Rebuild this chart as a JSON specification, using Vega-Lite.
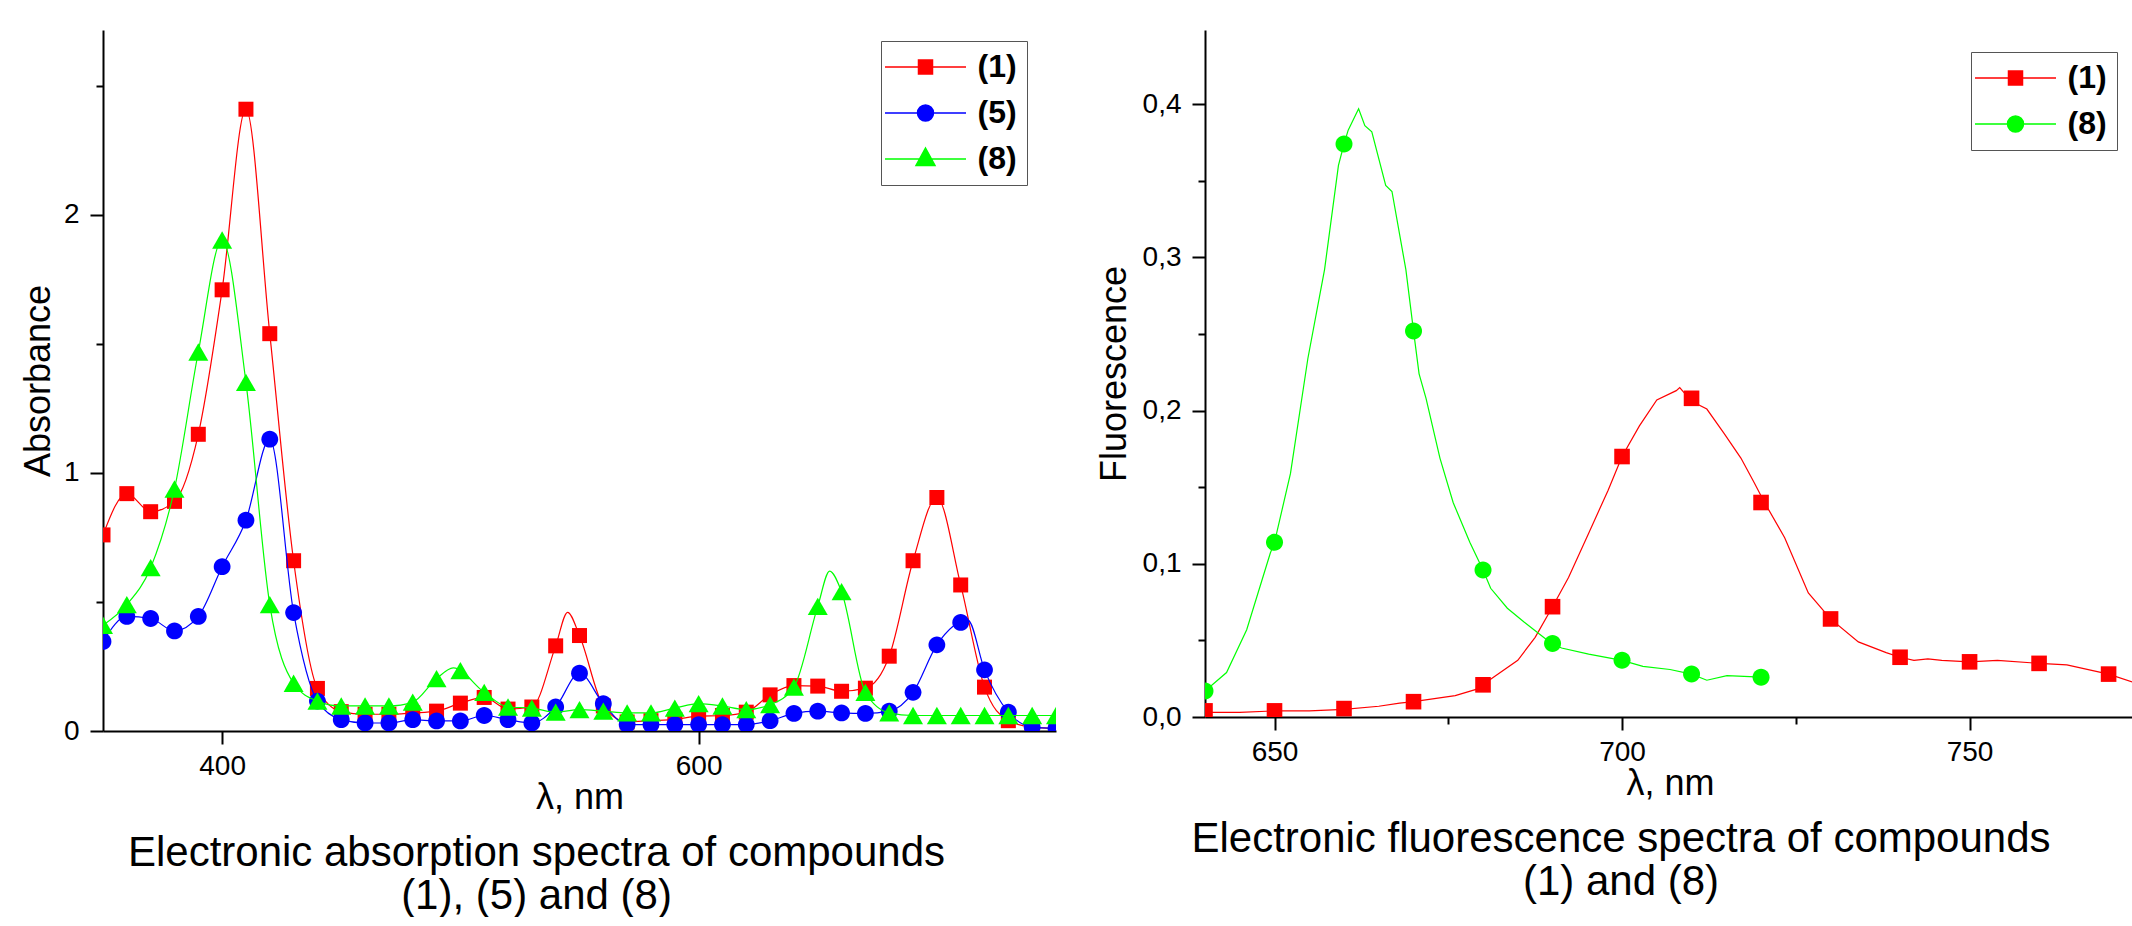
{
  "$schema": "https://vega.github.io/schema/vega-lite/v6.json",
  "background": "white",
  "padding": {"left": 20, "top": 30, "right": 0, "bottom": 0},
  "spacing": 40,
  "resolve": {"scale": {"fill": "independent", "stroke": "independent", "shape": "independent"}, "legend": {"fill": "independent", "stroke": "independent", "shape": "independent"}},
  "config": {
    "font": "Liberation Sans",
    "view": {"stroke": null},
    "axis": {"domainColor": "black", "domainWidth": 2, "tickColor": "black", "tickWidth": 2, "labelColor": "black", "labelFontSize": 28, "labelFont": "Liberation Sans", "titleFont": "Liberation Sans", "titleFontWeight": "normal", "titleFontSize": 36, "titleColor": "black", "grid": false},
    "legend": {"labelFont": "Liberation Sans", "labelFontSize": 32, "labelFontWeight": "bold", "labelColor": "black", "labelOffset": 36, "symbolOffset": 18.5, "symbolSize": 900, "symbolStrokeWidth": 1.5, "symbolOpacity": 1, "strokeColor": "#555555", "fillColor": "white", "padding": 10, "rowPadding": 14}
  },
  "datasets": {
    "absPts": [
      {"s":"1","wl":350,"A":0.76},{"s":"1","wl":360,"A":0.92},{"s":"1","wl":370,"A":0.85},{"s":"1","wl":380,"A":0.89},{"s":"1","wl":390,"A":1.15},{"s":"1","wl":400,"A":1.71},{"s":"1","wl":410,"A":2.41},{"s":"1","wl":420,"A":1.54},{"s":"1","wl":430,"A":0.66},{"s":"1","wl":440,"A":0.165},{"s":"1","wl":450,"A":0.075},{"s":"1","wl":460,"A":0.065},{"s":"1","wl":470,"A":0.065},{"s":"1","wl":480,"A":0.07},{"s":"1","wl":490,"A":0.077},{"s":"1","wl":500,"A":0.108},{"s":"1","wl":510,"A":0.13},{"s":"1","wl":520,"A":0.085},{"s":"1","wl":530,"A":0.093},{"s":"1","wl":540,"A":0.33},{"s":"1","wl":550,"A":0.37},{"s":"1","wl":560,"A":0.097},{"s":"1","wl":570,"A":0.035},{"s":"1","wl":580,"A":0.04},{"s":"1","wl":590,"A":0.045},{"s":"1","wl":600,"A":0.058},{"s":"1","wl":610,"A":0.06},{"s":"1","wl":620,"A":0.073},{"s":"1","wl":630,"A":0.14},{"s":"1","wl":640,"A":0.176},{"s":"1","wl":650,"A":0.174},{"s":"1","wl":660,"A":0.154},{"s":"1","wl":670,"A":0.166},{"s":"1","wl":680,"A":0.29},{"s":"1","wl":690,"A":0.66},{"s":"1","wl":700,"A":0.905},{"s":"1","wl":710,"A":0.566},{"s":"1","wl":720,"A":0.17},{"s":"1","wl":730,"A":0.04},{"s":"1","wl":740,"A":0.015},{"s":"1","wl":750,"A":0.01},
      {"s":"5","wl":350,"A":0.347},{"s":"5","wl":360,"A":0.444},{"s":"5","wl":370,"A":0.436},{"s":"5","wl":380,"A":0.388},{"s":"5","wl":390,"A":0.444},{"s":"5","wl":400,"A":0.637},{"s":"5","wl":410,"A":0.817},{"s":"5","wl":420,"A":1.131},{"s":"5","wl":430,"A":0.459},{"s":"5","wl":440,"A":0.116},{"s":"5","wl":450,"A":0.044},{"s":"5","wl":460,"A":0.031},{"s":"5","wl":470,"A":0.031},{"s":"5","wl":480,"A":0.044},{"s":"5","wl":490,"A":0.039},{"s":"5","wl":500,"A":0.039},{"s":"5","wl":510,"A":0.06},{"s":"5","wl":520,"A":0.044},{"s":"5","wl":530,"A":0.031},{"s":"5","wl":540,"A":0.093},{"s":"5","wl":550,"A":0.224},{"s":"5","wl":560,"A":0.106},{"s":"5","wl":570,"A":0.025},{"s":"5","wl":580,"A":0.025},{"s":"5","wl":590,"A":0.025},{"s":"5","wl":600,"A":0.025},{"s":"5","wl":610,"A":0.025},{"s":"5","wl":620,"A":0.025},{"s":"5","wl":630,"A":0.04},{"s":"5","wl":640,"A":0.068},{"s":"5","wl":650,"A":0.077},{"s":"5","wl":660,"A":0.07},{"s":"5","wl":670,"A":0.068},{"s":"5","wl":680,"A":0.077},{"s":"5","wl":690,"A":0.15},{"s":"5","wl":700,"A":0.334},{"s":"5","wl":710,"A":0.421},{"s":"5","wl":720,"A":0.237},{"s":"5","wl":730,"A":0.073},{"s":"5","wl":740,"A":0.015},{"s":"5","wl":750,"A":0.01},
      {"s":"8","wl":350,"A":0.41},{"s":"8","wl":360,"A":0.49},{"s":"8","wl":370,"A":0.633},{"s":"8","wl":380,"A":0.938},{"s":"8","wl":390,"A":1.469},{"s":"8","wl":400,"A":1.903},{"s":"8","wl":410,"A":1.351},{"s":"8","wl":420,"A":0.49},{"s":"8","wl":430,"A":0.185},{"s":"8","wl":440,"A":0.116},{"s":"8","wl":450,"A":0.097},{"s":"8","wl":460,"A":0.097},{"s":"8","wl":470,"A":0.097},{"s":"8","wl":480,"A":0.112},{"s":"8","wl":490,"A":0.203},{"s":"8","wl":500,"A":0.234},{"s":"8","wl":510,"A":0.15},{"s":"8","wl":520,"A":0.093},{"s":"8","wl":530,"A":0.089},{"s":"8","wl":540,"A":0.073},{"s":"8","wl":550,"A":0.083},{"s":"8","wl":560,"A":0.077},{"s":"8","wl":570,"A":0.07},{"s":"8","wl":580,"A":0.07},{"s":"8","wl":590,"A":0.089},{"s":"8","wl":600,"A":0.106},{"s":"8","wl":610,"A":0.097},{"s":"8","wl":620,"A":0.083},{"s":"8","wl":630,"A":0.102},{"s":"8","wl":640,"A":0.17},{"s":"8","wl":650,"A":0.483},{"s":"8","wl":660,"A":0.54},{"s":"8","wl":670,"A":0.15},{"s":"8","wl":680,"A":0.07},{"s":"8","wl":690,"A":0.06},{"s":"8","wl":700,"A":0.06},{"s":"8","wl":710,"A":0.06},{"s":"8","wl":720,"A":0.06},{"s":"8","wl":730,"A":0.06},{"s":"8","wl":740,"A":0.06},{"s":"8","wl":750,"A":0.06}
    ],
    "absLine": [
      {"s":"1","wl":350,"A":0.76},{"s":"1","wl":360,"A":0.92},{"s":"1","wl":370,"A":0.85},{"s":"1","wl":380,"A":0.89},{"s":"1","wl":390,"A":1.15},{"s":"1","wl":400,"A":1.71},{"s":"1","wl":410,"A":2.41},{"s":"1","wl":420,"A":1.54},{"s":"1","wl":430,"A":0.66},{"s":"1","wl":440,"A":0.165},{"s":"1","wl":450,"A":0.075},{"s":"1","wl":460,"A":0.065},{"s":"1","wl":470,"A":0.065},{"s":"1","wl":480,"A":0.07},{"s":"1","wl":490,"A":0.077},{"s":"1","wl":500,"A":0.108},{"s":"1","wl":510,"A":0.13},{"s":"1","wl":520,"A":0.085},{"s":"1","wl":530,"A":0.093},{"s":"1","wl":540,"A":0.33},{"s":"1","wl":545,"A":0.46},{"s":"1","wl":550,"A":0.37},{"s":"1","wl":560,"A":0.097},{"s":"1","wl":570,"A":0.035},{"s":"1","wl":580,"A":0.04},{"s":"1","wl":590,"A":0.045},{"s":"1","wl":600,"A":0.058},{"s":"1","wl":610,"A":0.06},{"s":"1","wl":620,"A":0.073},{"s":"1","wl":630,"A":0.14},{"s":"1","wl":640,"A":0.176},{"s":"1","wl":650,"A":0.174},{"s":"1","wl":660,"A":0.154},{"s":"1","wl":670,"A":0.166},{"s":"1","wl":680,"A":0.29},{"s":"1","wl":690,"A":0.66},{"s":"1","wl":700,"A":0.905},{"s":"1","wl":710,"A":0.566},{"s":"1","wl":720,"A":0.17},{"s":"1","wl":730,"A":0.04},{"s":"1","wl":740,"A":0.015},{"s":"1","wl":750,"A":0.01},
      {"s":"5","wl":350,"A":0.347},{"s":"5","wl":360,"A":0.444},{"s":"5","wl":370,"A":0.436},{"s":"5","wl":380,"A":0.388},{"s":"5","wl":390,"A":0.444},{"s":"5","wl":400,"A":0.637},{"s":"5","wl":410,"A":0.817},{"s":"5","wl":420,"A":1.131},{"s":"5","wl":430,"A":0.459},{"s":"5","wl":440,"A":0.116},{"s":"5","wl":450,"A":0.044},{"s":"5","wl":460,"A":0.031},{"s":"5","wl":470,"A":0.031},{"s":"5","wl":480,"A":0.044},{"s":"5","wl":490,"A":0.039},{"s":"5","wl":500,"A":0.039},{"s":"5","wl":510,"A":0.06},{"s":"5","wl":520,"A":0.044},{"s":"5","wl":530,"A":0.031},{"s":"5","wl":540,"A":0.093},{"s":"5","wl":550,"A":0.224},{"s":"5","wl":560,"A":0.106},{"s":"5","wl":570,"A":0.025},{"s":"5","wl":580,"A":0.025},{"s":"5","wl":590,"A":0.025},{"s":"5","wl":600,"A":0.025},{"s":"5","wl":610,"A":0.025},{"s":"5","wl":620,"A":0.025},{"s":"5","wl":630,"A":0.04},{"s":"5","wl":640,"A":0.068},{"s":"5","wl":650,"A":0.077},{"s":"5","wl":660,"A":0.07},{"s":"5","wl":670,"A":0.068},{"s":"5","wl":680,"A":0.077},{"s":"5","wl":690,"A":0.15},{"s":"5","wl":700,"A":0.334},{"s":"5","wl":713,"A":0.43},{"s":"5","wl":720,"A":0.237},{"s":"5","wl":730,"A":0.073},{"s":"5","wl":740,"A":0.015},{"s":"5","wl":750,"A":0.01},
      {"s":"8","wl":350,"A":0.41},{"s":"8","wl":360,"A":0.49},{"s":"8","wl":370,"A":0.633},{"s":"8","wl":380,"A":0.938},{"s":"8","wl":390,"A":1.469},{"s":"8","wl":400,"A":1.903},{"s":"8","wl":410,"A":1.351},{"s":"8","wl":420,"A":0.49},{"s":"8","wl":430,"A":0.185},{"s":"8","wl":440,"A":0.116},{"s":"8","wl":450,"A":0.097},{"s":"8","wl":460,"A":0.097},{"s":"8","wl":470,"A":0.097},{"s":"8","wl":480,"A":0.112},{"s":"8","wl":490,"A":0.203},{"s":"8","wl":497,"A":0.245},{"s":"8","wl":510,"A":0.15},{"s":"8","wl":520,"A":0.093},{"s":"8","wl":530,"A":0.089},{"s":"8","wl":540,"A":0.073},{"s":"8","wl":550,"A":0.083},{"s":"8","wl":560,"A":0.077},{"s":"8","wl":570,"A":0.07},{"s":"8","wl":580,"A":0.07},{"s":"8","wl":590,"A":0.089},{"s":"8","wl":600,"A":0.106},{"s":"8","wl":610,"A":0.097},{"s":"8","wl":620,"A":0.083},{"s":"8","wl":630,"A":0.102},{"s":"8","wl":640,"A":0.17},{"s":"8","wl":650,"A":0.483},{"s":"8","wl":655,"A":0.62},{"s":"8","wl":660,"A":0.54},{"s":"8","wl":670,"A":0.15},{"s":"8","wl":680,"A":0.07},{"s":"8","wl":690,"A":0.06},{"s":"8","wl":700,"A":0.06},{"s":"8","wl":710,"A":0.06},{"s":"8","wl":720,"A":0.06},{"s":"8","wl":730,"A":0.06},{"s":"8","wl":740,"A":0.06},{"s":"8","wl":750,"A":0.06}
    ],
    "fluPts": [
      {"s":"1","wl":640,"F":0.004},{"s":"1","wl":650,"F":0.004},{"s":"1","wl":660,"F":0.0055},{"s":"1","wl":670,"F":0.01},{"s":"1","wl":680,"F":0.021},{"s":"1","wl":690,"F":0.072},{"s":"1","wl":700,"F":0.17},{"s":"1","wl":710,"F":0.208},{"s":"1","wl":720,"F":0.14},{"s":"1","wl":730,"F":0.064},{"s":"1","wl":740,"F":0.039},{"s":"1","wl":750,"F":0.036},{"s":"1","wl":760,"F":0.035},{"s":"1","wl":770,"F":0.028},
      {"s":"8","wl":640,"F":0.017},{"s":"8","wl":650,"F":0.114},{"s":"8","wl":660,"F":0.374},{"s":"8","wl":670,"F":0.252},{"s":"8","wl":680,"F":0.096},{"s":"8","wl":690,"F":0.048},{"s":"8","wl":700,"F":0.037},{"s":"8","wl":710,"F":0.028},{"s":"8","wl":720,"F":0.026}
    ],
    "fluLine": [
      {"s":"1","wl":640,"F":0.003},{"s":"1","wl":645,"F":0.003},{"s":"1","wl":650,"F":0.004},{"s":"1","wl":655,"F":0.004},{"s":"1","wl":660,"F":0.005},{"s":"1","wl":665,"F":0.007},{"s":"1","wl":668,"F":0.009},{"s":"1","wl":670,"F":0.01},{"s":"1","wl":673,"F":0.012},{"s":"1","wl":676,"F":0.014},{"s":"1","wl":679,"F":0.018},{"s":"1","wl":681.5,"F":0.026},{"s":"1","wl":685,"F":0.037},{"s":"1","wl":687.5,"F":0.052},{"s":"1","wl":690,"F":0.072},{"s":"1","wl":692.3,"F":0.091},{"s":"1","wl":695.2,"F":0.12},{"s":"1","wl":698,"F":0.148},{"s":"1","wl":700,"F":0.17},{"s":"1","wl":702.5,"F":0.19},{"s":"1","wl":705,"F":0.207},{"s":"1","wl":707.8,"F":0.213},{"s":"1","wl":708.3,"F":0.215},{"s":"1","wl":710,"F":0.206},{"s":"1","wl":712.2,"F":0.201},{"s":"1","wl":714.7,"F":0.185},{"s":"1","wl":717.1,"F":0.169},{"s":"1","wl":719,"F":0.153},{"s":"1","wl":720.5,"F":0.14},{"s":"1","wl":723.4,"F":0.117},{"s":"1","wl":726.8,"F":0.081},{"s":"1","wl":730,"F":0.064},{"s":"1","wl":734,"F":0.049},{"s":"1","wl":738,"F":0.042},{"s":"1","wl":740,"F":0.039},{"s":"1","wl":742,"F":0.037},{"s":"1","wl":744,"F":0.038},{"s":"1","wl":746,"F":0.037},{"s":"1","wl":750,"F":0.036},{"s":"1","wl":754,"F":0.037},{"s":"1","wl":760,"F":0.035},{"s":"1","wl":764,"F":0.034},{"s":"1","wl":770,"F":0.028},{"s":"1","wl":774,"F":0.022},
      {"s":"8","wl":640,"F":0.017},{"s":"8","wl":643.1,"F":0.029},{"s":"8","wl":646,"F":0.057},{"s":"8","wl":649.4,"F":0.107},{"s":"8","wl":650,"F":0.114},{"s":"8","wl":652.3,"F":0.159},{"s":"8","wl":654.8,"F":0.234},{"s":"8","wl":657.2,"F":0.292},{"s":"8","wl":659.2,"F":0.36},{"s":"8","wl":660,"F":0.374},{"s":"8","wl":660.6,"F":0.383},{"s":"8","wl":662.1,"F":0.397},{"s":"8","wl":663,"F":0.386},{"s":"8","wl":664,"F":0.382},{"s":"8","wl":666,"F":0.347},{"s":"8","wl":666.9,"F":0.343},{"s":"8","wl":668.9,"F":0.292},{"s":"8","wl":670,"F":0.252},{"s":"8","wl":670.8,"F":0.224},{"s":"8","wl":671.8,"F":0.208},{"s":"8","wl":673.8,"F":0.169},{"s":"8","wl":675.7,"F":0.14},{"s":"8","wl":678.1,"F":0.114},{"s":"8","wl":680,"F":0.096},{"s":"8","wl":681.1,"F":0.084},{"s":"8","wl":683.5,"F":0.071},{"s":"8","wl":685.9,"F":0.062},{"s":"8","wl":689.3,"F":0.05},{"s":"8","wl":690,"F":0.048},{"s":"8","wl":691.3,"F":0.045},{"s":"8","wl":695.2,"F":0.041},{"s":"8","wl":700,"F":0.037},{"s":"8","wl":703,"F":0.033},{"s":"8","wl":706.9,"F":0.031},{"s":"8","wl":710,"F":0.028},{"s":"8","wl":712.2,"F":0.024},{"s":"8","wl":715.1,"F":0.027},{"s":"8","wl":720,"F":0.026}
    ]
  },
  "hconcat": [
    {
      "width": 953,
      "height": 701,
      "title": {"text": ["Electronic absorption spectra of compounds", "(1), (5) and (8)"], "orient": "bottom", "anchor": "middle", "font": "Liberation Sans", "fontSize": 42, "fontWeight": "normal", "color": "black", "lineHeight": 43, "offset": 18, "dx": -43},
      "encoding": {
        "x": {"field": "wl", "type": "quantitative", "scale": {"domain": [350, 750], "nice": false, "zero": false},
              "axis": {"values": [400, 600], "title": "λ, nm", "tickSize": 13, "labelPadding": 8, "titlePadding": 0, "labelFlush": false}},
        "y": {"field": "A", "type": "quantitative", "scale": {"domain": [0, 2.717], "nice": false},
              "axis": {"values": [0, 0.5, 1, 1.5, 2, 2.5], "title": "Absorbance", "labelExpr": "datum.value % 1 == 0 ? format(datum.value, 'd') : ''", "tickSize": {"condition": {"test": "datum.value % 1 != 0", "value": 7}, "value": 13}, "labelPadding": 11, "titlePadding": 6, "labelFlush": false}}
      },
      "layer": [
        {"data": {"name": "absLine"}, "transform": [{"filter": "datum.s == '1'"}], "mark": {"type": "line", "strokeWidth": 1.2, "interpolate": "monotone", "clip": true, "color": "#FF0000"}},
        {"data": {"name": "absPts"}, "transform": [{"filter": "datum.s == '1'"}], "mark": {"type": "point", "filled": true, "opacity": 1, "clip": true, "color": "#FF0000", "size": 400, "shape": "M-0.75,-0.75H0.75V0.75H-0.75Z"}},
        {"data": {"name": "absLine"}, "transform": [{"filter": "datum.s == '5'"}], "mark": {"type": "line", "strokeWidth": 1.2, "interpolate": "monotone", "clip": true, "color": "#0000FF"}},
        {"data": {"name": "absPts"}, "transform": [{"filter": "datum.s == '5'"}], "mark": {"type": "point", "filled": true, "opacity": 1, "clip": true, "color": "#0000FF", "size": 400, "shape": "M0.84,0A0.84,0.84,0,1,1,-0.84,0A0.84,0.84,0,1,1,0.84,0Z"}},
        {"data": {"name": "absLine"}, "transform": [{"filter": "datum.s == '8'"}], "mark": {"type": "line", "strokeWidth": 1.2, "interpolate": "monotone", "clip": true, "color": "#00FF00"}},
        {"data": {"name": "absPts"}, "transform": [{"filter": "datum.s == '8'"}], "mark": {"type": "point", "filled": true, "opacity": 1, "clip": true, "color": "#00FF00", "size": 400, "shape": "M0,-0.866L1,0.866L-1,0.866Z"}},
        {"data": {"name": "absPts"}, "mark": {"type": "point", "filled": true, "opacity": 0, "clip": true},
         "encoding": {
           "fill": {"field": "s", "type": "nominal", "scale": {"domain": ["1", "5", "8"], "range": ["#FF0000", "#0000FF", "#00FF00"]}, "legend": {"orient": "none", "legendX": 778, "legendY": 11, "title": null, "labelExpr": "'(' + datum.label + ')'"}},
           "stroke": {"field": "s", "type": "nominal", "scale": {"domain": ["1", "5", "8"], "range": ["#FF0000", "#0000FF", "#00FF00"]}, "legend": {"orient": "none", "legendX": 778, "legendY": 11, "title": null, "labelExpr": "'(' + datum.label + ')'"}},
           "shape": {"field": "s", "type": "nominal", "scale": {"domain": ["1", "5", "8"], "range": ["M-2.7,0H2.7M-0.467,-0.467H0.467V0.467H-0.467Z", "M-2.7,0H2.7M0.533,0A0.533,0.533,0,1,1,-0.533,0A0.533,0.533,0,1,1,0.533,0Z", "M-2.7,0H2.7M0,-0.733L0.633,0.433L-0.633,0.433Z"]}, "legend": {"orient": "none", "legendX": 778, "legendY": 11, "title": null, "labelExpr": "'(' + datum.label + ')'"}}
         }}
      ]
    },
    {
      "width": 930,
      "height": 687,
      "title": {"text": ["Electronic fluorescence spectra of compounds", "(1) and (8)"], "orient": "bottom", "anchor": "middle", "font": "Liberation Sans", "fontSize": 42, "fontWeight": "normal", "color": "black", "lineHeight": 43, "offset": 18, "dx": -49},
      "encoding": {
        "x": {"field": "wl", "type": "quantitative", "scale": {"domain": [640, 773.8], "nice": false, "zero": false},
              "axis": {"values": [650, 675, 700, 725, 750], "title": "λ, nm", "labelExpr": "datum.value % 50 == 0 ? format(datum.value, 'd') : ''", "tickSize": {"condition": {"test": "datum.value % 50 != 0", "value": 7}, "value": 13}, "labelPadding": 8, "titlePadding": 0, "labelFlush": false}},
        "y": {"field": "F", "type": "quantitative", "scale": {"domain": [0, 0.4484], "nice": false},
              "axis": {"values": [0, 0.05, 0.1, 0.15, 0.2, 0.25, 0.3, 0.35, 0.4, 0.45], "title": "Fluorescence", "labelExpr": "round(datum.value * 100) % 10 == 0 ? replace(format(datum.value, '.1f'), '.', ',') : ''", "tickSize": {"condition": {"test": "round(datum.value * 100) % 10 != 0", "value": 7}, "value": 13}, "labelPadding": 11, "titlePadding": 9, "labelFlush": false}}
      },
      "layer": [
        {"data": {"name": "fluLine"}, "transform": [{"filter": "datum.s == '1'"}], "mark": {"type": "line", "strokeWidth": 1.2, "clip": true, "color": "#FF0000"}},
        {"data": {"name": "fluPts"}, "transform": [{"filter": "datum.s == '1'"}], "mark": {"type": "point", "filled": true, "opacity": 1, "clip": true, "color": "#FF0000", "size": 400, "shape": "M-0.78,-0.78H0.78V0.78H-0.78Z"}},
        {"data": {"name": "fluLine"}, "transform": [{"filter": "datum.s == '8'"}], "mark": {"type": "line", "strokeWidth": 1.2, "clip": true, "color": "#00FF00"}},
        {"data": {"name": "fluPts"}, "transform": [{"filter": "datum.s == '8'"}], "mark": {"type": "point", "filled": true, "opacity": 1, "clip": true, "color": "#00FF00", "size": 400, "shape": "M0.85,0A0.85,0.85,0,1,1,-0.85,0A0.85,0.85,0,1,1,0.85,0Z"}},
        {"data": {"name": "fluPts"}, "mark": {"type": "point", "filled": true, "opacity": 0, "clip": true},
         "encoding": {
           "fill": {"field": "s", "type": "nominal", "scale": {"domain": ["1", "8"], "range": ["#FF0000", "#00FF00"]}, "legend": {"orient": "none", "legendX": 766, "legendY": 22, "title": null, "labelExpr": "'(' + datum.label + ')'"}},
           "stroke": {"field": "s", "type": "nominal", "scale": {"domain": ["1", "8"], "range": ["#FF0000", "#00FF00"]}, "legend": {"orient": "none", "legendX": 766, "legendY": 22, "title": null, "labelExpr": "'(' + datum.label + ')'"}},
           "shape": {"field": "s", "type": "nominal", "scale": {"domain": ["1", "8"], "range": ["M-2.7,0H2.7M-0.467,-0.467H0.467V0.467H-0.467Z", "M-2.7,0H2.7M0.533,0A0.533,0.533,0,1,1,-0.533,0A0.533,0.533,0,1,1,0.533,0Z"]}, "legend": {"orient": "none", "legendX": 766, "legendY": 22, "title": null, "labelExpr": "'(' + datum.label + ')'"}}
         }}
      ]
    }
  ]
}
